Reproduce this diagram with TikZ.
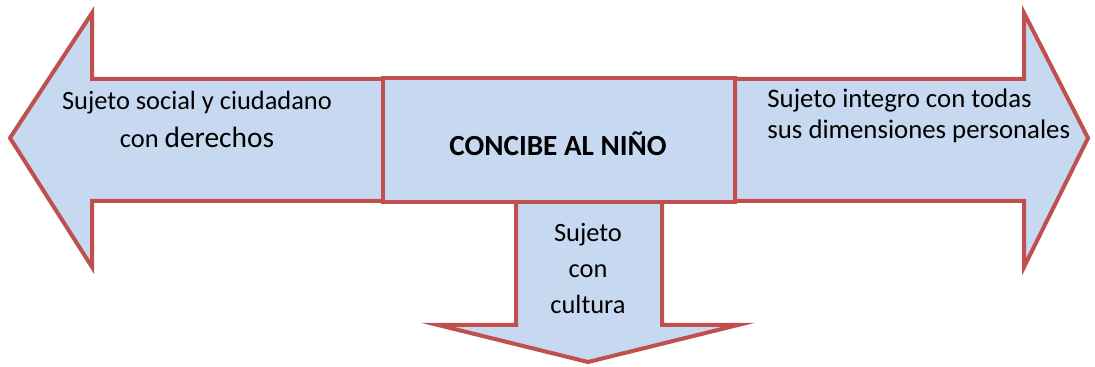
\documentclass[tikz,border=0pt]{standalone}
\usepackage{fontspec}
\setmainfont{Carlito}
\definecolor{arrowred}{HTML}{C0504D}
\definecolor{arrowblue}{HTML}{C6D9F1}
\tikzset{
  shapebox/.style={draw=arrowred,fill=arrowblue,line width=2pt,line join=miter},
  labeltext/.style={font=\fontsize{13}{19}\selectfont,align=center,inner sep=0pt}
}
\begin{document}
\begin{tikzpicture}[x=0.5pt,y=-0.5pt]
\useasboundingbox (0,0) rectangle (1095,367);
% arrows
\draw[shapebox] (10,138) -- (92,13) -- (92,79) -- (383,79) -- (383,201) -- (92,201) -- (92,267) -- cycle;
\draw[shapebox] (1088,138) -- (1024,13) -- (1024,79) -- (735,79) -- (735,201) -- (1024,201) -- (1024,267) -- cycle;
\draw[shapebox] (516,190) -- (516,325) -- (438,325) -- (588,362) -- (738,325) -- (662,325) -- (662,190) -- cycle;
\draw[shapebox] (383,78) rectangle (735,202);
% texts
\node[labeltext,font=\fontsize{13.2}{19}\selectfont] (social) at (197,119) {Sujeto social y ciudadano\\con {\fontsize{14.7}{19}\selectfont derechos}};
\node[labeltext,font=\fontsize{13.4}{15.5}\selectfont,align=left,anchor=west] (integro) at (767,116) {Sujeto integro con todas\\sus dimensiones personales};
\node[labeltext,font=\fontsize{14.6}{19}\selectfont\bfseries] (nino) at (558,144) {CONCIBE AL NIÑO};
\node[labeltext,font=\fontsize{13.2}{18}\selectfont] (cultura) at (588,269) {Sujeto\\con\\cultura};
\end{tikzpicture}
\end{document}
